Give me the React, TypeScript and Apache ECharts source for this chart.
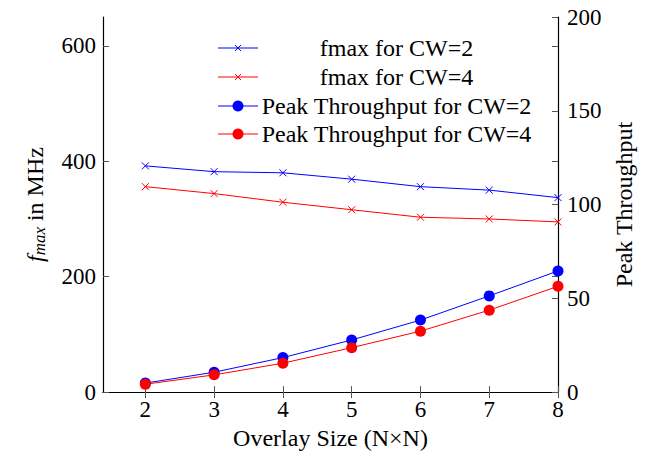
import React, { useEffect, useRef } from "react";
import * as echarts from "echarts";

const overlaySizes = [2, 3, 4, 5, 6, 7, 8];
const fmaxCW2 = [392, 382, 380, 369, 356, 350, 337];
const fmaxCW4 = [356, 344, 329, 316, 303, 300, 295];
const tputCW2 = [4.8, 10.6, 18.4, 27.8, 38.4, 51.3, 64.6];
const tputCW4 = [4.2, 9.2, 15.4, 23.7, 32.5, 43.7, 56.4];
const xTicks = [2, 3, 4, 5, 6, 7, 8];
const leftTicks = [0, 200, 400, 600];
const rightTicks = [0, 50, 100, 150, 200];
const legendNames = [
  "fmax for CW=2",
  "fmax for CW=4",
  "Peak Throughput for CW=2",
  "Peak Throughput for CW=4",
];

const FONT = "Liberation Serif";
const BLUE = "#0000ff";
const RED = "#ff0000";
const CROSS = "path://M0,0L10,10M10,0L0,10";

export default function App() {
  const ref = useRef<HTMLDivElement>(null);
  useEffect(() => {
    if (!ref.current) return;
    const chart = echarts.init(ref.current, undefined, { renderer: "svg" });
    const pair = (ys: number[]) => overlaySizes.map((x, i) => [x, ys[i]]);
    const tickStyle = { show: true, inside: true, length: 6, lineStyle: { color: "#555", width: 1 } };
    const lineStyleAxis = { show: true, lineStyle: { color: "#000", width: 1.2 } };
    const labelBase = { fontFamily: FONT, fontSize: 23, color: "#000" };

    const legendColors = [BLUE, RED, BLUE, RED];
    const legendGraphics: any[] = [];
    const rowsY = [48, 77, 106, 134];
    legendNames.forEach((name, i) => {
      const y = rowsY[i];
      const c = legendColors[i];
      legendGraphics.push({
        type: "line",
        shape: { x1: 218, y1: y, x2: 258, y2: y },
        style: { stroke: c, lineWidth: 1 },
      });
      if (i < 2) {
        legendGraphics.push({
          type: "line",
          shape: { x1: 235, y1: y - 3, x2: 241, y2: y + 3 },
          style: { stroke: c, lineWidth: 1 },
        });
        legendGraphics.push({
          type: "line",
          shape: { x1: 235, y1: y + 3, x2: 241, y2: y - 3 },
          style: { stroke: c, lineWidth: 1 },
        });
      } else {
        legendGraphics.push({
          type: "circle",
          shape: { cx: 238, cy: y, r: 5.5 },
          style: { fill: c },
        });
      }
      legendGraphics.push({
        type: "text",
        x: 396.5,
        y,
        style: {
          text: name,
          fontFamily: FONT,
          fontSize: 24,
          fill: "#000",
          align: "center",
          verticalAlign: "middle",
        },
      });
    });

    chart.setOption({
      animation: false,
      grid: { left: 103, right: 90, top: 17, bottom: 61, containLabel: false },
      xAxis: [
        {
          type: "value",
          position: "bottom",
          min: 1.384,
          max: 8,
          axisLine: lineStyleAxis,
          axisTick: { ...tickStyle, customValues: xTicks },
          axisLabel: { ...labelBase, margin: 6, customValues: xTicks },
          splitLine: { show: false },
          name: "Overlay Size (N×N)",
          nameLocation: "middle",
          nameGap: 32,
          nameTextStyle: { fontFamily: FONT, fontSize: 24, color: "#000" },
        },
        {
          type: "value",
          position: "top",
          min: 1.384,
          max: 8,
          axisLine: lineStyleAxis,
          axisTick: { ...tickStyle, customValues: xTicks },
          axisLabel: { show: false },
          splitLine: { show: false },
        },
      ],
      yAxis: [
        {
          type: "value",
          position: "left",
          min: 0,
          max: 650,
          axisLine: lineStyleAxis,
          axisTick: { ...tickStyle, customValues: leftTicks },
          axisLabel: { ...labelBase, margin: 7, customValues: leftTicks },
          splitLine: { show: false },
          name: "{i|f}{s|max} in MHz",
          nameLocation: "middle",
          nameRotate: 90,
          nameGap: 55,
          nameTextStyle: {
            fontFamily: FONT,
            fontSize: 24,
            color: "#000",
            rich: {
              i: { fontFamily: FONT, fontSize: 24, fontStyle: "italic", color: "#000" },
              s: { fontFamily: FONT, fontSize: 17, fontStyle: "italic", color: "#000", padding: [10, 0, 0, 0] },
            },
          },
        },
        {
          type: "value",
          position: "right",
          min: 0,
          max: 200,
          axisLine: lineStyleAxis,
          axisTick: { ...tickStyle, customValues: rightTicks },
          axisLabel: { ...labelBase, margin: 9, customValues: rightTicks },
          splitLine: { show: false },
          name: "Peak Throughput",
          nameLocation: "middle",
          nameRotate: 90,
          nameGap: 52,
          nameTextStyle: { fontFamily: FONT, fontSize: 24, color: "#000" },
        },
        {
          type: "value",
          position: "right",
          offset: 0,
          min: 0,
          max: 650,
          axisLine: { show: false },
          axisTick: { ...tickStyle, customValues: leftTicks },
          axisLabel: { show: false },
          splitLine: { show: false },
        },
      ],
      series: [
        {
          name: legendNames[0],
          type: "line",
          yAxisIndex: 0,
          data: pair(fmaxCW2),
          symbol: CROSS,
          symbolSize: 7,
          lineStyle: { color: BLUE, width: 1 },
          itemStyle: { color: BLUE, borderColor: BLUE, borderWidth: 1 },
        },
        {
          name: legendNames[1],
          type: "line",
          yAxisIndex: 0,
          data: pair(fmaxCW4),
          symbol: CROSS,
          symbolSize: 7,
          lineStyle: { color: RED, width: 1 },
          itemStyle: { color: RED, borderColor: RED, borderWidth: 1 },
        },
        {
          name: legendNames[2],
          type: "line",
          yAxisIndex: 1,
          data: pair(tputCW2),
          symbol: "circle",
          symbolSize: 11,
          lineStyle: { color: BLUE, width: 1 },
          itemStyle: { color: BLUE },
        },
        {
          name: legendNames[3],
          type: "line",
          yAxisIndex: 1,
          data: pair(tputCW4),
          symbol: "circle",
          symbolSize: 11,
          lineStyle: { color: RED, width: 1 },
          itemStyle: { color: RED },
        },
      ],
      graphic: legendGraphics,
    });
    return () => chart.dispose();
  }, []);
  return (
    <div
      ref={ref}
      style={{ position: "fixed", left: 0, top: 0, width: 648, height: 455, background: "#fff" }}
    />
  );
}
